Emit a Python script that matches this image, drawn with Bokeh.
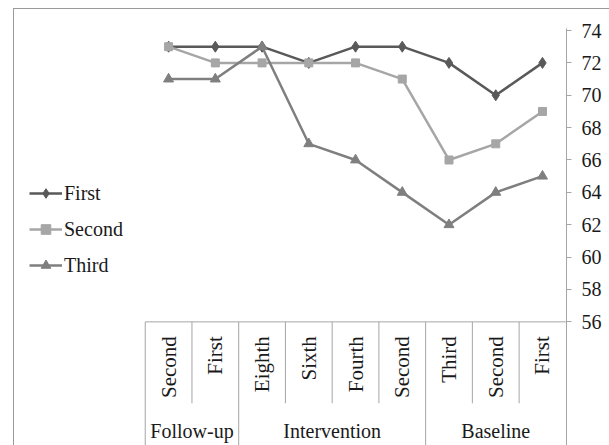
import numpy as np
from bokeh.plotting import figure
from bokeh.models import Range1d, LinearAxis, FixedTicker, Legend, LegendItem
from bokeh.core.properties import value
from bokeh.embed import file_html
from bokeh.resources import INLINE

# ---- data ----
groups = ["Follow-up", "Intervention", "Baseline"]
group_sizes = [2, 4, 3]
sessions = ["Second", "First", "Eighth", "Sixth", "Fourth", "Second", "Third", "Second", "First"]
first = [73, 73, 73, 72, 73, 73, 72, 70, 72]
second = [73, 72, 72, 72, 72, 71, 66, 67, 69]
third = [71, 71, 73, 67, 66, 64, 62, 64, 65]
y_ticks = [56, 58, 60, 62, 64, 66, 68, 70, 72, 74]

FONT_NAME = "Liberation Serif"
FONT = value(FONT_NAME)
TXT = "#1a1a1a"
GRID = "#a6a6a6"
C1, C2, C3 = "#595959", "#a6a6a6", "#7f7f7f"

n = len(sessions)
xs = list(range(n))
y_min_axis = y_ticks[0]

p = figure(width=596, height=437, output_backend="svg", toolbar_location=None,
           x_range=Range1d(-3.297, 8.514), y_range=Range1d(48.30, 74.124),
           x_axis_location=None, y_axis_location=None, title=None,
           margin=(8, 0, 0, 13),
           min_border_left=0, min_border_right=44, min_border_top=19, min_border_bottom=0)
p.styles = {"border-top": "1px solid #9a9a9a", "border-left": "1px solid #9a9a9a"}
p.outline_line_color = None
p.background_fill_color = "white"
p.border_fill_color = "white"
p.grid.visible = False

yaxis = LinearAxis(ticker=FixedTicker(ticks=y_ticks))
yaxis.axis_line_color = GRID
yaxis.axis_line_width = 1
yaxis.major_tick_line_color = GRID
yaxis.major_tick_in = 0
yaxis.major_tick_out = 5
yaxis.minor_tick_line_color = None
yaxis.major_label_standoff = 10
yaxis.major_label_text_font = FONT_NAME
yaxis.major_label_text_font_size = "20px"
yaxis.major_label_text_color = TXT
p.add_layout(yaxis, "right")

# ---- category table below the value area ----
y_bottom = p.y_range.start
inner_bottom = 50.97
p.segment(x0=[-0.5], y0=[y_min_axis], x1=[n - 0.5], y1=[y_min_axis], line_color=GRID, line_width=1)
bounds = np.cumsum([0] + group_sizes)
vx, vy1 = [], []
for k in range(n):
    vx.append(k - 0.5)
    vy1.append(y_bottom if k in bounds else inner_bottom)
p.segment(x0=vx, y0=[y_min_axis] * len(vx), x1=vx, y1=vy1, line_color=GRID, line_width=1)

p.text(x=xs, y=[55.115] * n, text=sessions, angle=np.pi / 2, text_align="right",
       text_baseline="middle", text_font=FONT, text_font_size="21px", text_color=TXT)

gx = [(bounds[i] + bounds[i + 1] - 1) / 2 for i in range(len(groups))]
p.text(x=gx, y=[49.23] * len(groups), text=groups, text_align="center",
       text_baseline="middle", text_font=FONT, text_font_size="20px", text_color=TXT)

# ---- series ----
l1 = p.line(xs, first, line_color=C1, line_width=2.5)
m1 = p.scatter(xs, first, marker="diamond", size=11, fill_color=C1, line_color=C1)
l2 = p.line(xs, second, line_color=C2, line_width=2.5)
m2 = p.scatter(xs, second, marker="square", size=8, fill_color=C2, line_color=C2)
l3 = p.line(xs, third, line_color=C3, line_width=2.5)
m3 = p.scatter(xs, third, marker="triangle", size=10, fill_color=C3, line_color=C3)

legend = Legend(items=[LegendItem(label="First", renderers=[l1, m1]),
                       LegendItem(label="Second", renderers=[l2, m2]),
                       LegendItem(label="Third", renderers=[l3, m3])],
                location=(15, 169), orientation="vertical", padding=0, margin=0,
                border_line_color=None, background_fill_alpha=0,
                label_text_font=FONT_NAME, label_text_font_size="20px", label_text_color=TXT,
                glyph_width=33, glyph_height=24, label_height=24, label_standoff=2, spacing=12)
p.add_layout(legend)

open("out.html", "w").write(file_html(p, INLINE))
